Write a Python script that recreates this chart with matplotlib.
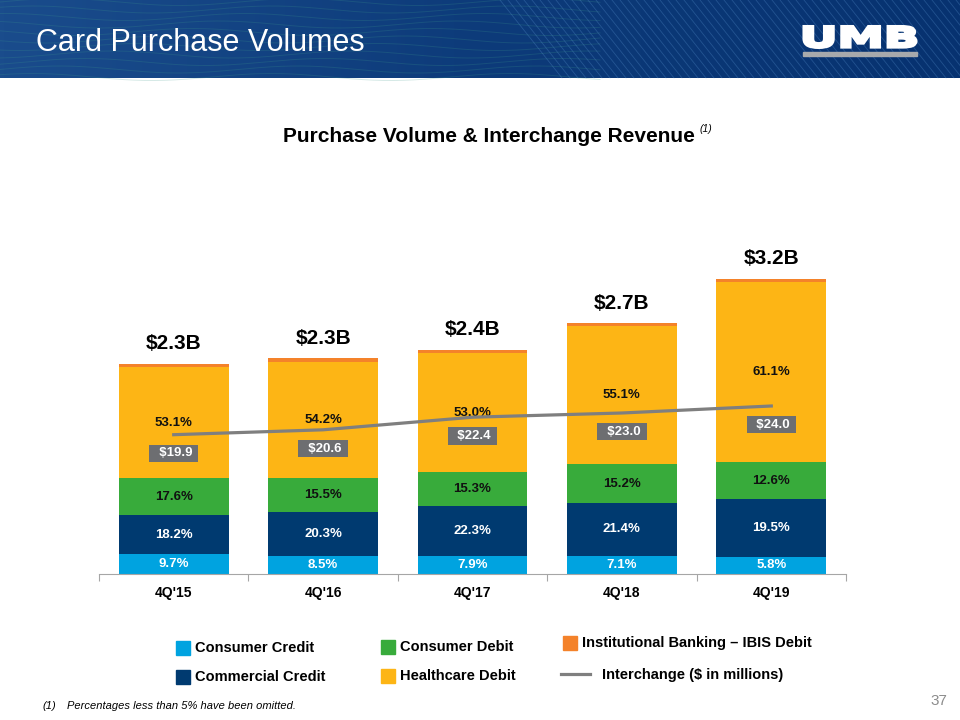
import numpy as np
import matplotlib
matplotlib.use("Agg")
import matplotlib.pyplot as plt
from matplotlib.patches import Rectangle, PathPatch
from matplotlib.textpath import TextPath
from matplotlib.font_manager import FontProperties
from matplotlib.transforms import Affine2D
from matplotlib.colors import LinearSegmentedColormap

plt.rcParams['font.family'] = ['Liberation Sans', 'DejaVu Sans']

# data
quarters = ["4Q'15", "4Q'16", "4Q'17", "4Q'18", "4Q'19"]
totals = [2.28, 2.34, 2.43, 2.72, 3.20]          # purchase volume, $B
total_labels = ["$2.3B", "$2.3B", "$2.4B", "$2.7B", "$3.2B"]
consumer_credit = [9.7, 8.5, 7.9, 7.1, 5.8]      # % of volume
commercial_credit = [18.2, 20.3, 22.3, 21.4, 19.5]
consumer_debit = [17.6, 15.5, 15.3, 15.2, 12.6]
healthcare_debit = [53.1, 54.2, 53.0, 55.1, 61.1]
ibis_debit = [1.4, 1.5, 1.5, 1.2, 1.0]
interchange = [19.9, 20.6, 22.4, 23.0, 24.0]     # $ in millions

c_cc = '#00a3e0'
c_com = '#003a70'
c_cd = '#38ab3b'
c_hd = '#fdb515'
c_ibis = '#f4822a'
c_line = '#7f7f7f'
c_box = '#6d6e71'

fig = plt.figure(figsize=(9.6, 7.2), dpi=100)

# background / header in pixel coords (y up)
bg = fig.add_axes([0, 0, 1, 1], zorder=-1)
bg.set_xlim(0, 960)
bg.set_ylim(0, 720)
bg.axis('off')

grad = np.linspace(0, 1, 256).reshape(1, -1)
cmap = LinearSegmentedColormap.from_list('hdr', ['#1a4c8c', '#0d3b7a', '#073270'])
bg.imshow(grad, extent=[0, 960, 642, 720], aspect='auto', cmap=cmap, zorder=0)
xs = np.linspace(0, 600, 300)
for i in range(11):
    ys = 720 - (2 + i * 7.5) + 3.5 * np.sin(xs / 38.0 + i * 0.7)
    bg.plot(xs, ys, color='#3f9a8c', alpha=0.22, lw=0.7, zorder=1)
for x0 in range(500, 1000, 8):
    bg.plot([x0, x0 + 62], [720, 642], color='#5f9ad6', alpha=0.3, lw=0.6, zorder=1)
bg.set_xlim(0, 960)
bg.set_ylim(0, 720)

fig.text(36 / 960, 1 - 51 / 720, 'Card Purchase Volumes', color='white',
         fontsize=22, va='baseline', ha='left')

# UMB logo
fp = FontProperties(family='DejaVu Sans', weight='bold')
tp = TextPath((0, 0), 'UMB', size=1, prop=fp)
ext = tp.get_extents()
tr = Affine2D().translate(-ext.x0, -ext.y0).scale(112 / ext.width, 21 / ext.height).translate(804, 720 - 47.5)
bg.add_patch(PathPatch(tr.transform_path(tp), fc='white', ec='white', lw=2.2, zorder=2))
bg.add_patch(Rectangle((803, 720 - 56), 114, 4, color='#a7a9ac', zorder=2))

fig.text(489 / 960, 1 - 137 / 720, 'Purchase Volume & Interchange Revenue',
         ha='center', va='center', fontsize=15, fontweight='bold')
fig.text(700 / 960, 1 - 129 / 720, '(1)', fontsize=7.5, style='italic', va='center')

# main chart
ax = fig.add_axes([99 / 960, 146 / 720, 747 / 960, 320 / 720])
ax.patch.set_visible(False)
x = np.arange(len(quarters))
segments = [
    (consumer_credit, c_cc, 'white'),
    (commercial_credit, c_com, 'white'),
    (consumer_debit, c_cd, '#111111'),
    (healthcare_debit, c_hd, '#111111'),
    (ibis_debit, c_ibis, None),
]
bottom = np.zeros(len(quarters))
for pct, color, tc in segments:
    vals = np.array(totals) * np.array(pct) / 100
    ax.bar(x, vals, 0.736, bottom=bottom, color=color, zorder=2)
    if tc:
        for xi, b, v, p in zip(x, bottom, vals, pct):
            ax.text(xi, b + v / 2, f'{p:.1f}%', ha='center', va='center',
                    color=tc, fontsize=9.5, fontweight='bold', zorder=3)
    bottom += vals

for xi, top, lbl in zip(x, bottom, total_labels):
    ax.annotate(lbl, (xi, top), xytext=(0, 14.5), textcoords='offset points',
                ha='center', va='center', fontsize=15, fontweight='bold')

ax.set_xlim(-0.5, 4.5)
ax.set_ylim(0, 320 / 92.15)
for s in ['top', 'left', 'right']:
    ax.spines[s].set_visible(False)
ax.spines['bottom'].set_color('#a6a6a6')
ax.set_yticks([])
ax.set_xticks(np.arange(-0.5, 5, 1))
ax.set_xticklabels([])
ax.tick_params(axis='x', which='major', direction='out', length=5, color='#a6a6a6')
ax.set_xticks(x, minor=True)
ax.set_xticklabels(quarters, minor=True, fontsize=10, fontweight='bold')
ax.tick_params(axis='x', which='minor', length=0, pad=9)

ax2 = ax.twinx()
ax2.set_ylim(0, 320 / 7.0)
ax2.axis('off')
ax2.plot(x, interchange, color=c_line, lw=2.3, zorder=4)
for xi, v in zip(x, interchange):
    ax2.annotate(f'  ${v:.1f} ', (xi, v), xytext=(0, -13.5), textcoords='offset points',
                 ha='center', va='center', color='white', fontsize=9.5, fontweight='bold',
                 bbox=dict(boxstyle='square,pad=0.2', fc=c_box, ec='none'))

# legend
leg_items = [
    ('Consumer Credit', c_cc, 176, 648),
    ('Commercial Credit', c_com, 176, 677),
    ('Consumer Debit', c_cd, 381, 647),
    ('Healthcare Debit', c_hd, 381, 676),
    ('Institutional Banking \u2013 IBIS Debit', c_ibis, 563, 643),
]
for lbl, col, lx, ly in leg_items:
    bg.add_patch(Rectangle((lx, 720 - ly - 7), 14, 14, color=col))
    bg.text(lx + 19, 720 - ly, lbl, fontsize=10.5, fontweight='bold', va='center')
bg.plot([561, 590], [720 - 674, 720 - 674], color=c_line, lw=2.3)
bg.text(602, 720 - 675, 'Interchange ($ in millions)', fontsize=10.5, fontweight='bold', va='center')

fig.text(42 / 960, 1 - 706 / 720, '(1)', fontsize=8, style='italic', va='center')
fig.text(67 / 960, 1 - 706 / 720, 'Percentages less than 5% have been omitted.',
         fontsize=8, style='italic', va='center')
fig.text(947 / 960, 1 - 701 / 720, '37', fontsize=11, color='#8c8c8c', ha='right', va='center')

fig.savefig('out.png', dpi=100)
